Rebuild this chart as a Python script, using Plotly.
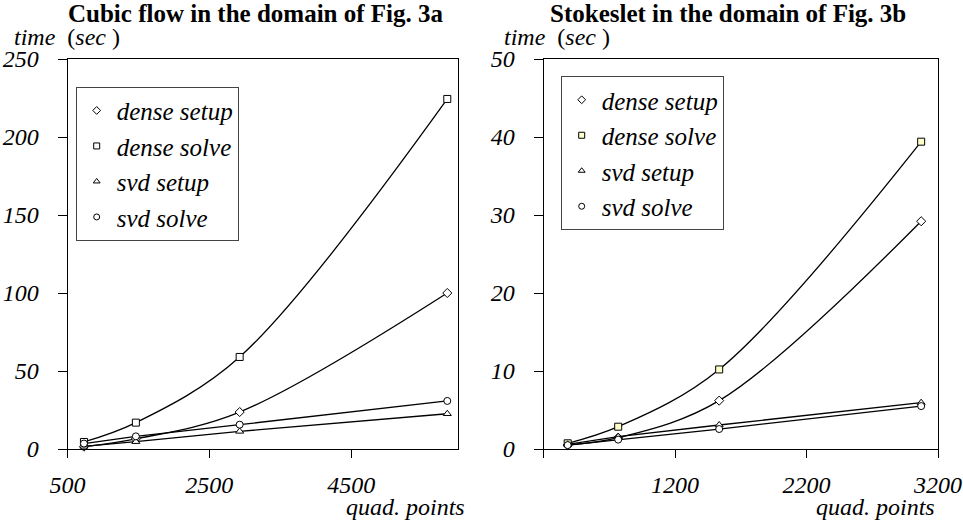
import plotly.graph_objects as go

# ---- data ----
x_left = [732, 1464, 2928, 5856]
left_dense_setup = [1.5, 6.5, 23.7, 100.0]
left_dense_solve = [4.5, 16.9, 59.0, 224.4]
left_svd_setup = [1.7, 4.7, 11.3, 22.6]
left_svd_solve = [3.5, 8.1, 15.6, 30.8]

x_right = [384, 768, 1536, 3072]
right_dense_setup = [0.5, 1.45, 6.2, 29.2]
right_dense_solve = [0.73, 2.86, 10.2, 39.4]
right_svd_setup = [0.6, 1.58, 3.08, 5.94]
right_svd_solve = [0.5, 1.2, 2.56, 5.5]

names = ["dense setup", "dense solve", "svd setup", "svd solve"]
symbols = ["diamond", "square", "triangle-up", "circle"]

left_yticks = [0, 50, 100, 150, 200, 250]
right_yticks = [0, 10, 20, 30, 40, 50]
left_xticks = [500, 2500, 4500]
right_xticks = [200, 1200, 2200, 3200]
right_xticktext = ["", "1200", "2200", "3200"]

FONT = "Liberation Serif"
W, H = 963, 524

fig = go.Figure()

def add_panel(xs, series, xaxis, yaxis, legend, square_fill):
    for i, (nm, ys) in enumerate(zip(names, series)):
        shape = "spline" if i < 2 else "linear"
        fill = square_fill if i == 1 else "white"
        fig.add_trace(go.Scatter(
            x=xs, y=ys, mode="lines+markers",
            line=dict(color="black", width=1.3, shape=shape),
            marker=dict(symbol=symbols[i], size=7, color=fill,
                        line=dict(color="black", width=1)),
            xaxis=xaxis, yaxis=yaxis, showlegend=False, cliponaxis=False))
    for i, nm in enumerate(names):
        fill = square_fill if i == 1 else "white"
        fig.add_trace(go.Scatter(
            x=[None], y=[None], mode="markers", name=f"<i>{nm}</i>",
            marker=dict(symbol=symbols[i], size=6, color=fill,
                        line=dict(color="black", width=1)),
            xaxis=xaxis, yaxis=yaxis, legend=legend, legendgroup=f"{legend}{i}",
            showlegend=True))

add_panel(x_left, [left_dense_setup, left_dense_solve, left_svd_setup, left_svd_solve],
          "x", "y", "legend", "white")
add_panel(x_right, [right_dense_setup, right_dense_solve, right_svd_setup, right_svd_solve],
          "x2", "y2", "legend2", "#ffffcc")

tickfont = dict(family=FONT, size=24, color="black", style="italic")
ax_common = dict(showgrid=False, zeroline=False, showline=True, linecolor="black",
                 linewidth=1, mirror=True, ticks="outside", tickcolor="black",
                 tickwidth=1, tickfont=tickfont, automargin=False)

ytop = 1 - 59 / H
ybot = 1 - 449 / H

legend_common = dict(xanchor="left", yanchor="top", bgcolor="white", bordercolor="#444",
                     borderwidth=1, font=dict(family=FONT, size=25, color="black"),
                     traceorder="grouped", tracegroupgap=0)

fig.update_layout(
    template="none",
    width=W, height=H, margin=dict(l=0, r=0, t=0, b=0, pad=0), autosize=False,
    plot_bgcolor="white", paper_bgcolor="white",
    font=dict(family=FONT, size=24, color="black"),
    xaxis=dict(domain=[67.5 / W, 457.5 / W], range=[500, 6000], tickvals=left_xticks,
               anchor="y", ticklen=8, ticklabelstandoff=6, **ax_common),
    yaxis=dict(domain=[ybot, ytop], range=[0, 250], tickvals=left_yticks,
               anchor="x", ticklen=9, ticklabelstandoff=14, **ax_common),
    xaxis2=dict(domain=[543.5 / W, 938 / W], range=[200, 3200], tickvals=right_xticks,
                ticktext=right_xticktext, anchor="y2", ticklen=8, ticklabelstandoff=6, **ax_common),
    yaxis2=dict(domain=[ybot, ytop], range=[0, 50], tickvals=right_yticks,
                anchor="x2", ticklen=9, ticklabelstandoff=14, **ax_common),
    legend=dict(x=75.7 / W, y=1 - 86.7 / H, **legend_common),
    legend2=dict(x=560.7 / W, y=1 - 76 / H, **legend_common),
)

def ann(text, x, y, xanchor="center", size=24):
    fig.add_annotation(text=text, x=x / W, y=1 - y / H, xref="paper", yref="paper",
                       xanchor=xanchor, yanchor="middle", showarrow=False,
                       font=dict(family=FONT, size=size, color="black"))

ann("<b>Cubic flow in the domain of Fig. 3a</b>", 256, 14, size=25)
ann("<b>Stokeslet in the domain of Fig. 3b</b>", 728, 14, size=25)
ann("<i>time</i>  (<i>sec</i> )", 12, 37, xanchor="left")
ann("<i>time</i>  (<i>sec</i> )", 502, 37, xanchor="left")
ann("<i>quad. points</i>", 467, 507, xanchor="right")
ann("<i>quad. points</i>", 937, 507, xanchor="right")

fig.write_html("out.html", config={"displayModeBar": False},
               post_script="document.body.style.margin='0';")
